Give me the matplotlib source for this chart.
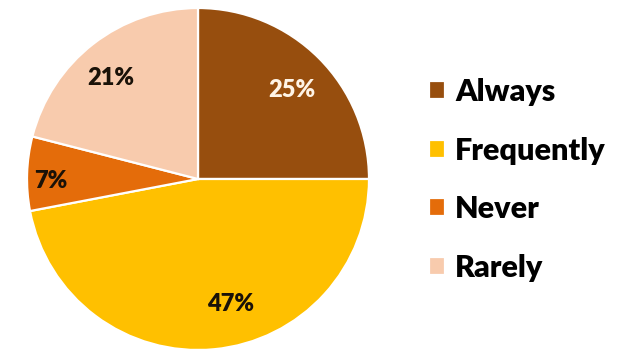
import matplotlib
matplotlib.use("Agg")
import matplotlib.pyplot as plt

categories = ["Always", "Frequently", "Never", "Rarely"]
shares = [25, 47, 7, 21]
colors = ["#974E0E", "#FFC000", "#E46C0A", "#F8CBAD"]
label_colors = ["#FFF4E6", "#1A1208", "#1A1208", "#1A1208"]
# percentage label placement inside each slice (pie radius units)
label_xy = [(0.55, 0.52), (0.19, -0.73), (-0.86, -0.01), (-0.51, 0.59)]

W, H = 618, 356
fig = plt.figure(figsize=(W / 100, H / 100), dpi=100)
fig.patch.set_facecolor("white")

cx, cy, r = 198, 179, 171
ax = fig.add_axes([(cx - r) / W, (H - cy - r) / H, 2 * r / W, 2 * r / H])

wedges, texts, autotexts = ax.pie(
    shares,
    colors=colors,
    startangle=90,
    counterclock=False,
    autopct=lambda p: f"{p:.0f}%",
    wedgeprops=dict(edgecolor="white", linewidth=1.6),
    textprops=dict(fontsize=17, fontweight="heavy", family="Lato"),
)
for t, c, xy in zip(autotexts, label_colors, label_xy):
    t.set_color(c)
    t.set_position(xy)

ax.set_xlim(-1, 1)
ax.set_ylim(-1, 1)
ax.axis("off")

fig.legend(
    wedges,
    categories,
    loc="upper left",
    bbox_to_anchor=(429 / W, 1 - 78 / H),
    frameon=False,
    prop=dict(family="Lato", weight="heavy", size=22),
    handlelength=0.52,
    handleheight=0.52,
    handletextpad=0.33,
    labelspacing=1.0,
    borderaxespad=0,
    borderpad=0,
)

fig.savefig("out.png", dpi=100, facecolor="white")
